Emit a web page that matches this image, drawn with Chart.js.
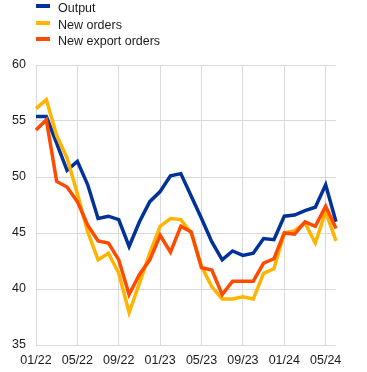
<!DOCTYPE html>
<html>
<head>
<meta charset="utf-8">
<script src="https://cdn.jsdelivr.net/npm/chart.js@4"></script>
<style>
  body { margin: 0; background: #fff; }
  #wrap { position: relative; width: 367px; height: 372px; }
  #legend { position: absolute; left: 0; top: 0; font: 12.5px "Liberation Sans", Arial, sans-serif; color: #1a1a1a; }
  .item { position: absolute; left: 0; height: 16.7px; line-height: 16.7px; white-space: nowrap; }
  .swatch { position: absolute; left: 36px; width: 14px; height: 4px; }
  .txt { position: absolute; left: 58px; top: 0; }
</style>
</head>
<body>
<div id="wrap">
  <canvas id="chart" width="367" height="372"></canvas>
  <div id="legend"></div>
</div>
<script>
const months = [
  "01/22", "02/22", "03/22", "04/22", "05/22", "06/22", "07/22", "08/22", "09/22", "10/22", "11/22", "12/22",
  "01/23", "02/23", "03/23", "04/23", "05/23", "06/23", "07/23", "08/23", "09/23", "10/23", "11/23", "12/23",
  "01/24", "02/24", "03/24", "04/24", "05/24", "06/24",
];
const output = [
  55.4, 55.4, 53.0, 50.6, 51.4, 49.3, 46.3, 46.5, 46.2, 43.8, 46.0, 47.8,
  48.7, 50.1, 50.3, 48.3, 46.3, 44.2, 42.6, 43.4, 43.0, 43.2, 44.5, 44.4,
  46.5, 46.6, 47.0, 47.3, 49.3, 46.0,
];
const newOrders = [
  56.1, 56.9, 53.7, 51.7, 48.5, 45.1, 42.6, 43.2, 41.4, 37.9, 40.5, 43.2,
  45.6, 46.3, 46.2, 45.0, 42.0, 40.2, 39.1, 39.1, 39.3, 39.1, 41.4, 41.8,
  45.0, 45.2, 45.9, 44.1, 46.9, 44.3,
];
const newExportOrders = [
  54.2, 55.1, 49.6, 49.1, 47.8, 45.7, 44.3, 44.1, 42.6, 39.5, 41.3, 42.6,
  44.8, 43.3, 45.6, 45.1, 41.9, 41.7, 39.5, 40.7, 40.7, 40.7, 42.3, 42.7,
  45.0, 44.9, 46.0, 45.6, 47.4, 45.4,
];
const yTicks = [35, 40, 45, 50, 55, 60];

const SERIES = [
  { label: "Output", color: "#003299", data: output, order: 2 },
  { label: "New orders", color: "#ffb400", data: newOrders, order: 1 },
  { label: "New export orders", color: "#ff4b00", data: newExportOrders, order: 0 },
];

const gridColor = "#d9d9d9";
const textColor = "#1a1a1a";
const font = { family: "'Liberation Sans', Arial, sans-serif", size: 12.5 };

const legendEl = document.getElementById("legend");
legendEl.innerHTML = SERIES.map((s, i) => `
  <div class="item" style="top:${(i * 16.7).toFixed(1)}px">
    <span class="swatch" style="top:4px;background:${s.color}"></span>
    <span class="txt">${s.label}</span>
  </div>`).join("");

new Chart(document.getElementById("chart"), {
  type: "line",
  data: {
    labels: months,
    datasets: SERIES.map((s) => ({
      label: s.label,
      data: s.data,
      borderColor: s.color,
      backgroundColor: s.color,
      borderWidth: 3.5,
      pointRadius: 0,
      tension: 0,
      order: s.order,
    })),
  },
  options: {
    responsive: false,
    animation: false,
    layout: { padding: { top: 65, right: 31, left: 0, bottom: 0 } },
    plugins: { legend: { display: false }, tooltip: { enabled: false } },
    scales: {
      x: {
        offset: false,
        border: { display: false },
        grid: {
          drawTicks: false,
          color: (c) => (c.index % 4 === 0 ? gridColor : "rgba(0,0,0,0)"),
        },
        ticks: {
          autoSkip: false,
          maxRotation: 0,
          padding: 8,
          color: textColor,
          font,
          callback: (v, i) => (i % 4 === 0 ? months[i] : ""),
        },
        afterFit: (scale) => { scale.height = 27; },
      },
      y: {
        min: 35,
        max: 60,
        border: { display: false },
        grid: { drawTicks: false, color: gridColor },
        afterBuildTicks: (scale) => { scale.ticks = yTicks.map((v) => ({ value: v })); },
        ticks: { padding: 10, color: textColor, font },
        afterFit: (scale) => { scale.width = 36; },
      },
    },
  },
});
</script>
</body>
</html>
